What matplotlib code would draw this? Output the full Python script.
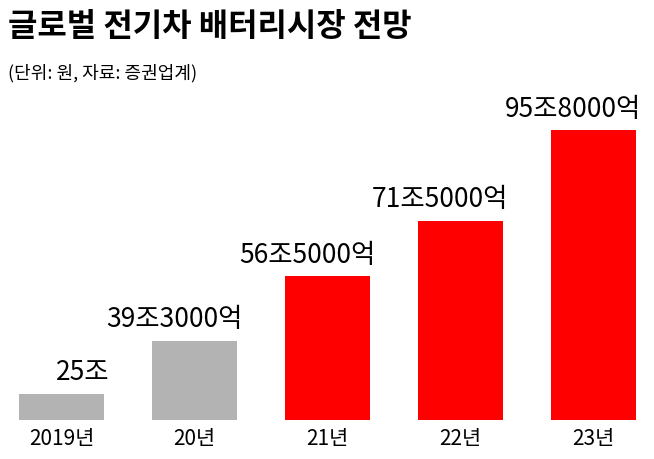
import matplotlib.pyplot as plt

plt.rcParams['font.family'] = ['Noto Sans CJK KR', 'DejaVu Sans']

years = ['2019년', '20년', '21년', '22년', '23년']
values = [25.0, 39.3, 56.5, 71.5, 95.8]
labels = ['25조', '39조3000억', '56조5000억', '71조5000억', '95조8000억']
colors = ['#b3b3b3', '#b3b3b3', '#ff0000', '#ff0000', '#ff0000']

fig = plt.figure(figsize=(6.54, 4.59), dpi=100)
fig.text(0.012, 0.975, '글로벌 전기차 배터리시장 전망', fontsize=23, fontweight='black', va='top')
fig.text(0.012, 0.86, '(단위: 원, 자료: 증권업계)', fontsize=13, va='top')

ax = fig.add_axes([15 / 654, 39 / 459, 625 / 654, 290 / 459])
ax.bar(range(len(values)), values, width=0.64, color=colors)
ax.set_xlim(-0.35, 4.35)
ax.set_ylim(18, 95.8)
for i, (v, lab) in enumerate(zip(values, labels)):
    ax.text(i + 0.36, v + 2, lab, ha='right', va='bottom', fontsize=19,
            fontweight='medium', clip_on=False)
ax.set_xticks(range(len(years)))
ax.set_xticklabels(years, fontsize=15)
ax.tick_params(axis='x', length=0, pad=6)
ax.set_yticks([])
for s in ax.spines.values():
    s.set_visible(False)

fig.savefig('out.png', dpi=100)
